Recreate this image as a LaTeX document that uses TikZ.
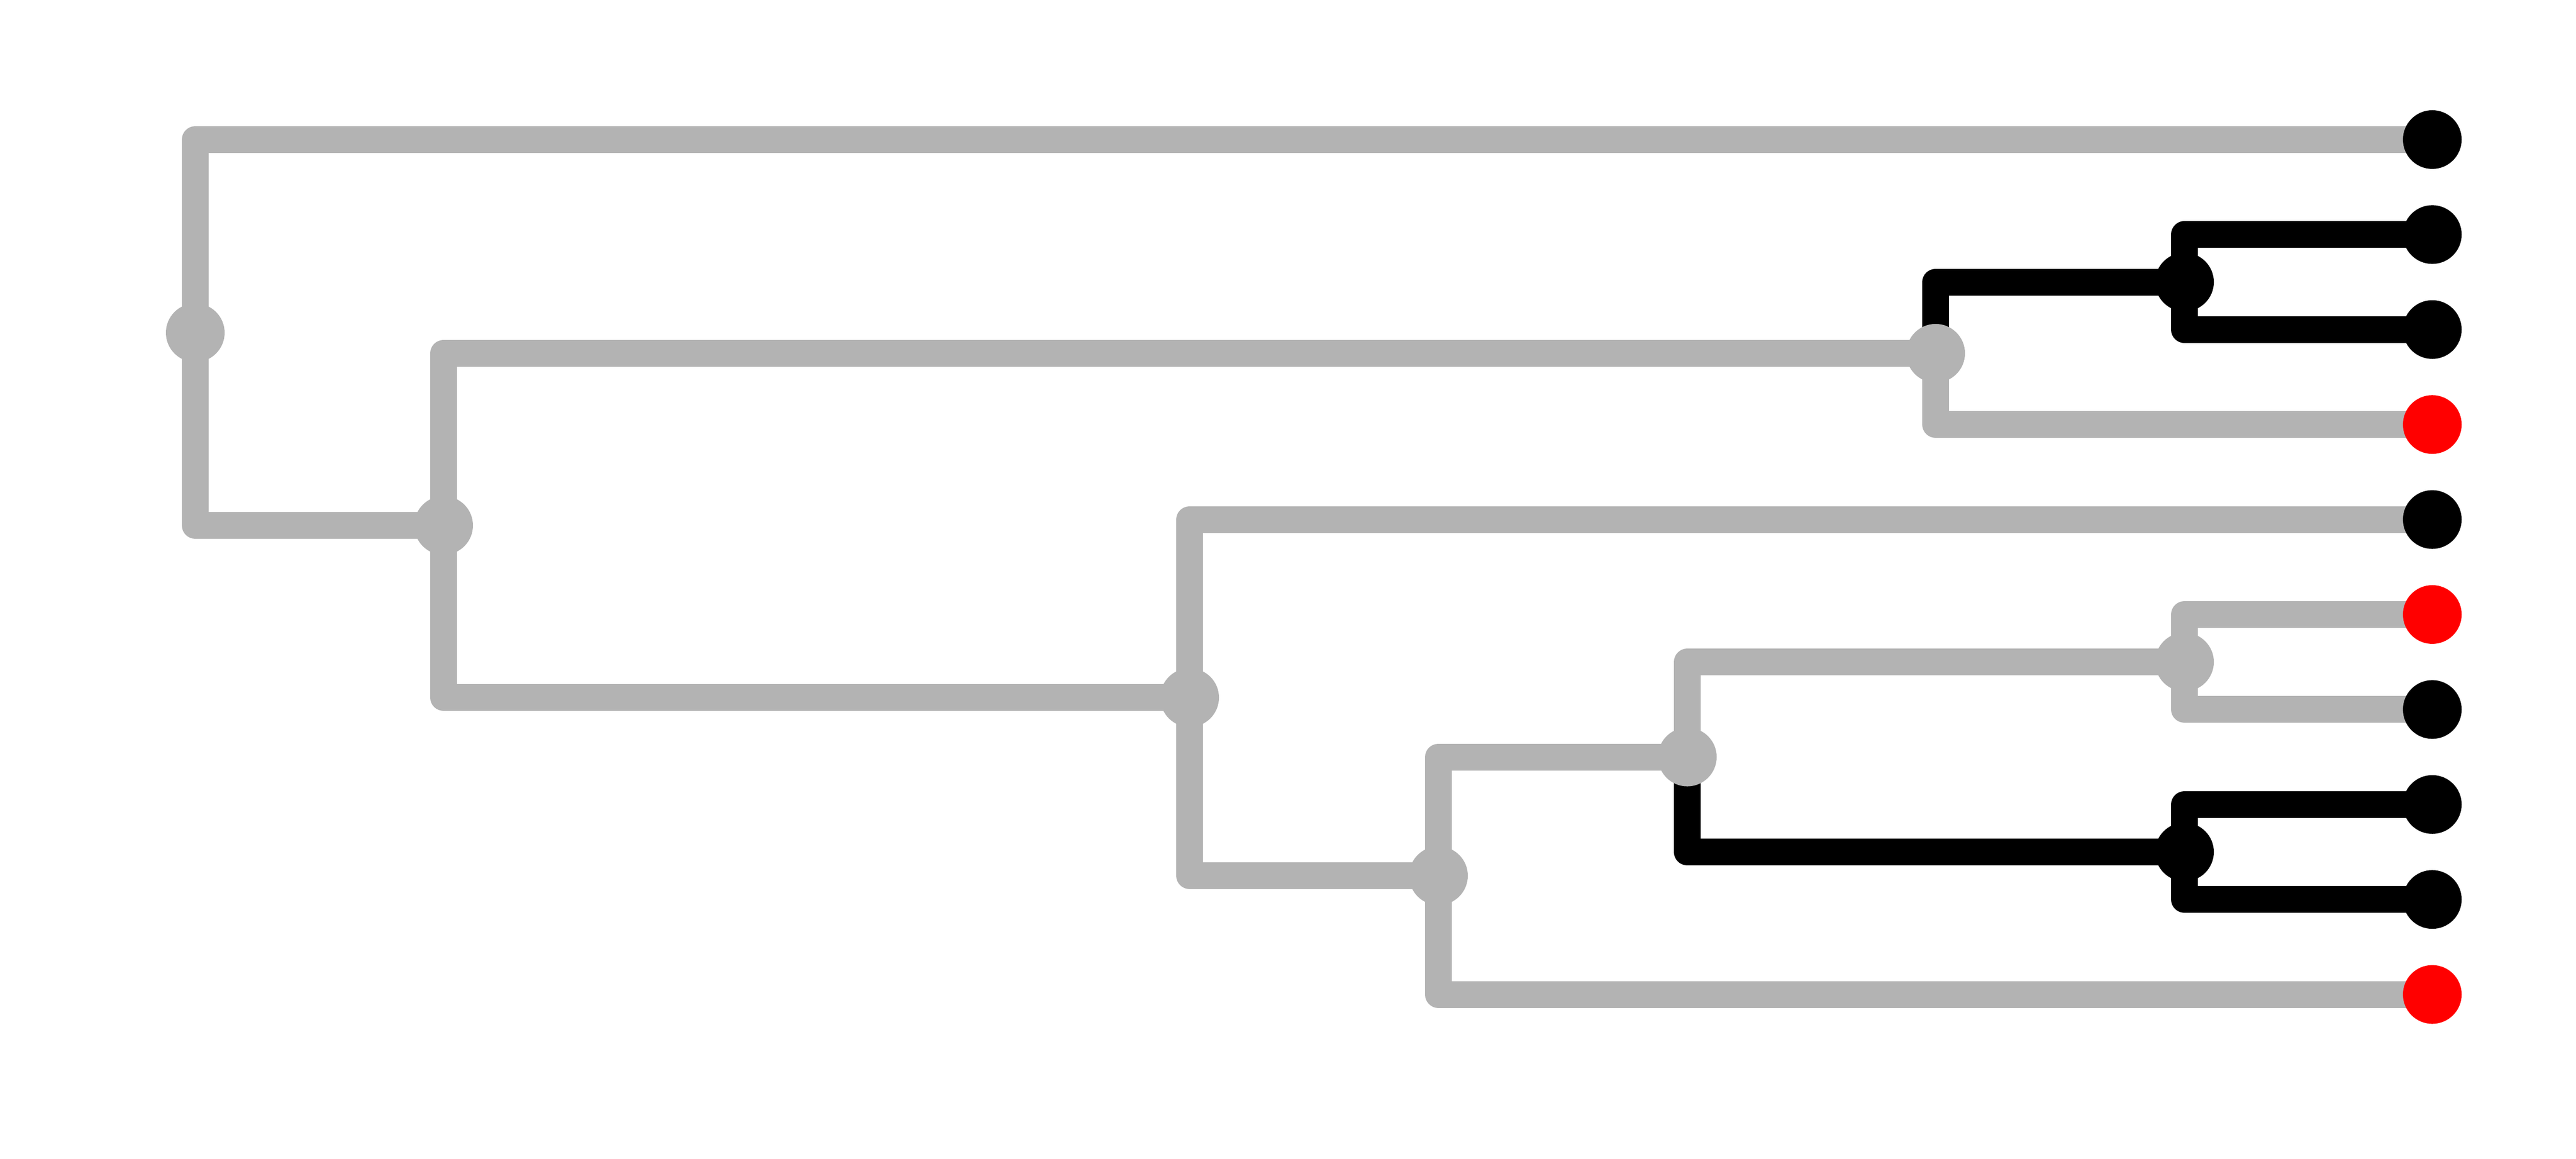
\documentclass[tikz,border=0pt]{standalone}
\usepackage{tikz}
\usetikzlibrary{backgrounds}
\definecolor{branchgray}{RGB}{179,179,179}
\definecolor{tipred}{RGB}{255,0,0}

\begin{document}
\begin{tikzpicture}[
                          dot/.style={circle, minimum size=11.4mm, inner sep=0pt},
                          blackdot/.style={dot, fill=black},
                          graydot/.style={dot, fill=branchgray},
                          reddot/.style={dot, fill=tipred},
                          elbow/.style={line width=5.2mm, line cap=round, line join=round,
                                        to path={|- (\tikztotarget)}},
                          grayb/.style={elbow, draw=branchgray},
                          blackb/.style={elbow, draw=black}]
                      \useasboundingbox (0,0) rectangle (50,22.5);
                      % tips
                      \node[blackdot] (t1)  at (47.21,19.790) {};
                      \node[blackdot] (t2)  at (47.21,17.946) {};
                      \node[blackdot] (t3)  at (47.21,16.102) {};
                      \node[reddot]   (t4)  at (47.21,14.258) {};
                      \node[blackdot] (t5)  at (47.21,12.414) {};
                      \node[reddot]   (t6)  at (47.21,10.570) {};
                      \node[blackdot] (t7)  at (47.21,8.726)  {};
                      \node[blackdot] (t8)  at (47.21,6.882)  {};
                      \node[blackdot] (t9)  at (47.21,5.038)  {};
                      \node[reddot]   (t10) at (47.21,3.194)  {};
                      % forks
                      \node[graydot]  (root) at (3.79,16.040) {};
                      \node[graydot]  (n2)   at (8.61,12.299) {};
                      \node[graydot]  (n3)   at (37.57,15.641) {};
                      \node[blackdot] (n4)   at (42.40,17.024) {};
                      \node[graydot]  (n5)   at (23.09,8.957) {};
                      \node[graydot]  (n6)   at (27.92,5.499) {};
                      \node[graydot]  (n7)   at (32.75,7.804) {};
                      \node[graydot]  (n8)   at (42.40,9.648) {};
                      \node[blackdot] (n9)   at (42.40,5.960) {};
                      \begin{scope}[on background layer]
                      \path
                      (root.center) edge[grayb] (t1.center)
                                    edge[grayb] (n2.center)
                      (n2.center)   edge[grayb] (n3.center)
                                    edge[grayb] (n5.center)
                      (n3.center)   edge[blackb] (n4.center)
                                    edge[grayb] (t4.center)
                      (n4.center)   edge[blackb] (t2.center)
                                    edge[blackb] (t3.center)
                      (n5.center)   edge[grayb] (t5.center)
                                    edge[grayb] (n6.center)
                      (n6.center)   edge[grayb] (n7.center)
                                    edge[grayb] (t10.center)
                      (n7.center)   edge[grayb] (n8.center)
                                    edge[blackb] (n9.center)
                      (n8.center)   edge[grayb] (t6.center)
                                    edge[grayb] (t7.center)
                      (n9.center)   edge[blackb] (t8.center)
                                    edge[blackb] (t9.center)
                      ;
                      \end{scope}
                  \end{tikzpicture}
\end{document}
